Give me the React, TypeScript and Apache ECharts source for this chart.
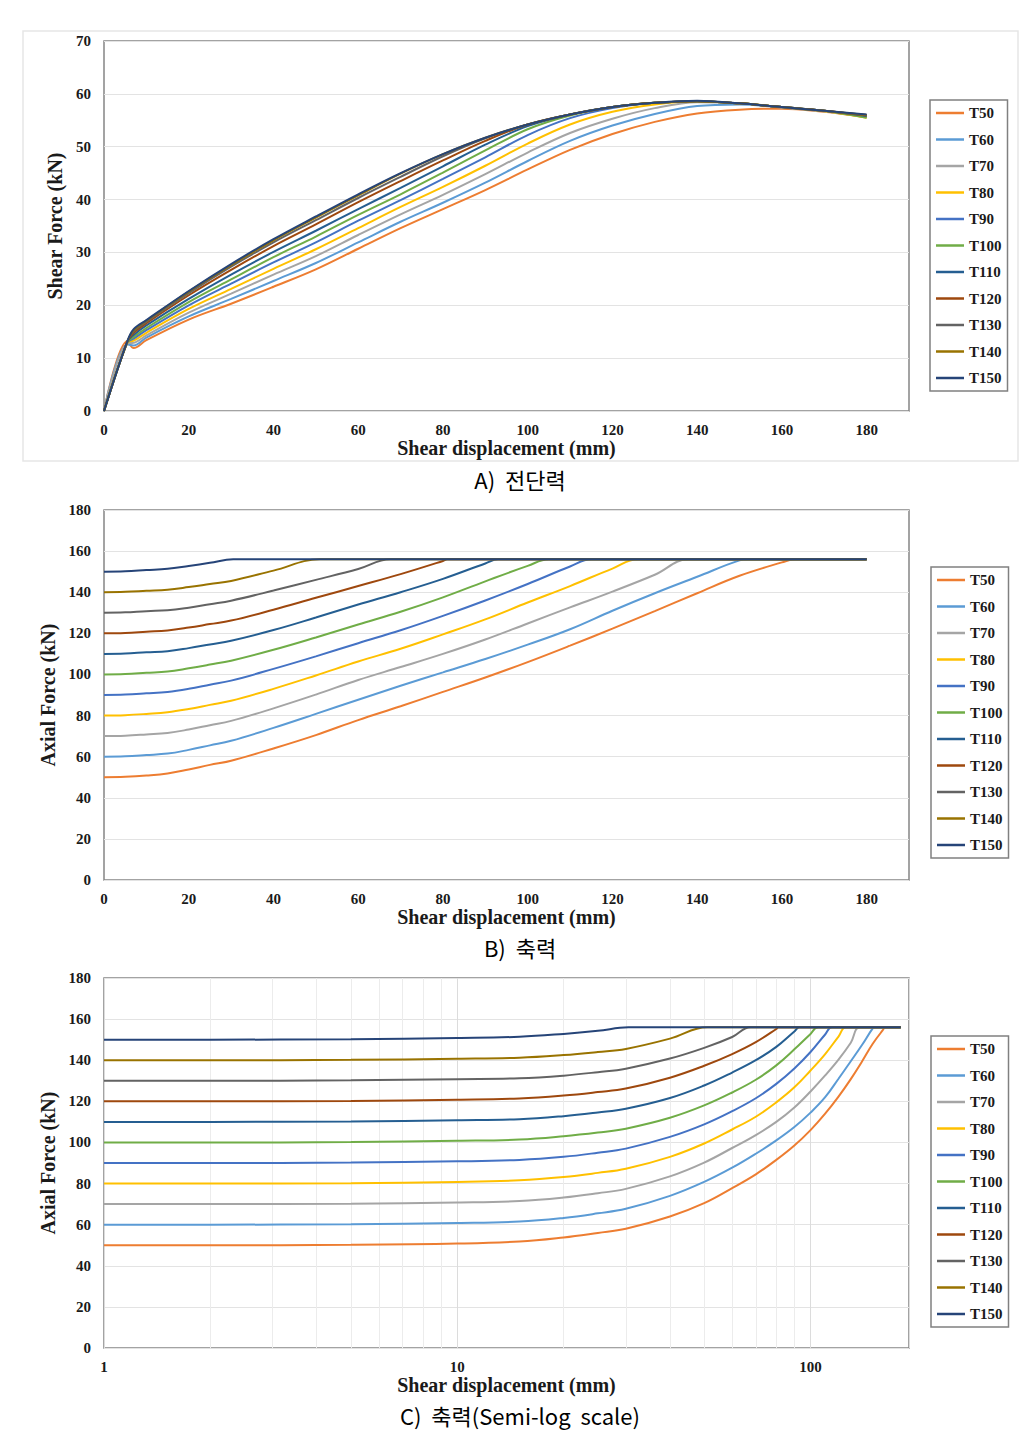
import React, { useEffect, useRef } from "react";
import * as echarts from "echarts";

const seriesNames = ["T50", "T60", "T70", "T80", "T90", "T100", "T110", "T120", "T130", "T140", "T150"];
const seriesColors = ["#ED7D31", "#5B9BD5", "#A5A5A5", "#FFC000", "#4472C4", "#70AD47", "#255E91", "#9E480E", "#636363", "#997300", "#264478"];

// ---- Chart A: shear force vs shear displacement ----
const shearX = [0, 5.5, 7, 10, 20, 30, 40, 50, 60, 70, 80, 90, 100, 110, 120, 130, 140, 150, 160, 170, 180];
const shearT50 = [0, 13.2, 11.9, 13.4, 17.3, 20.3, 23.5, 26.8, 30.7, 34.6, 38.2, 41.8, 45.7, 49.4, 52.4, 54.7, 56.3, 57.0, 57.2, 56.6, 55.6];
const shearT60 = [0, 12.6, 12.4, 13.9, 17.9, 21.2, 24.6, 28.0, 31.9, 35.8, 39.4, 43.2, 47.3, 51.1, 54.0, 56.2, 57.7, 58.0, 57.4, 56.7, 55.6];
const shearT70 = [0, 12.8, 12.9, 14.3, 18.6, 22.2, 25.8, 29.3, 33.3, 37.2, 40.9, 44.8, 48.9, 52.6, 55.3, 57.3, 58.4, 58.2, 57.5, 56.7, 55.7];
const shearT80 = [0, 12.9, 13.3, 14.8, 19.3, 23.1, 26.9, 30.6, 34.6, 38.6, 42.4, 46.4, 50.6, 54.2, 56.6, 58.0, 58.6, 58.2, 57.5, 56.7, 55.5];
const shearT90 = [0, 13.0, 13.7, 15.3, 20.0, 24.1, 28.1, 31.9, 36.0, 39.9, 43.9, 48.0, 52.2, 55.4, 57.3, 58.3, 58.6, 58.2, 57.5, 56.8, 55.7];
const shearT100 = [0, 13.0, 14.0, 15.7, 20.6, 24.9, 29.1, 33.0, 37.1, 41.0, 45.1, 49.3, 53.3, 55.9, 57.5, 58.3, 58.6, 58.2, 57.5, 56.8, 55.5];
const shearT110 = [0, 13.1, 14.4, 16.2, 21.2, 25.8, 30.1, 34.1, 38.2, 42.2, 46.3, 50.4, 53.9, 56.1, 57.5, 58.3, 58.6, 58.2, 57.5, 56.8, 55.8];
const shearT120 = [0, 13.1, 14.8, 16.6, 21.9, 26.7, 31.2, 35.3, 39.5, 43.5, 47.4, 51.1, 54.2, 56.1, 57.5, 58.3, 58.6, 58.2, 57.5, 56.8, 55.9];
const shearT130 = [0, 13.2, 15.1, 16.9, 22.3, 27.3, 31.9, 36.1, 40.3, 44.3, 48.2, 51.6, 54.2, 56.1, 57.5, 58.3, 58.6, 58.2, 57.5, 56.8, 56.0];
const shearT140 = [0, 13.2, 15.3, 17.1, 22.6, 27.6, 32.3, 36.6, 40.8, 44.9, 48.6, 51.7, 54.2, 56.1, 57.5, 58.3, 58.6, 58.2, 57.5, 56.8, 56.0];
const shearT150 = [0, 13.2, 15.5, 17.2, 22.7, 27.8, 32.5, 36.8, 41.0, 45.0, 48.6, 51.7, 54.2, 56.1, 57.5, 58.3, 58.7, 58.2, 57.5, 56.8, 56.1];
const shearSets = [shearT50, shearT60, shearT70, shearT80, shearT90, shearT100, shearT110, shearT120, shearT130, shearT140, shearT150];

// ---- Charts B & C: axial force vs shear displacement, [mm, kN] ----
const axialT50 = [[0, 50], [1, 50], [2, 50], [5, 50.2], [10, 50.8], [15, 51.8], [20, 53.8], [25, 56], [30, 58], [40, 64], [50, 70.5], [60, 77.8], [70, 84.5], [80, 91.5], [90, 98.5], [100, 106], [110, 114], [120, 122.3], [130, 130.8], [140, 139.5], [150, 148], [160, 154.5], [163, 156], [180, 156]];
const axialT60 = [[0, 60], [1, 60], [2, 60], [5, 60.2], [10, 60.8], [15, 61.5], [20, 63.3], [25, 65.5], [30, 67.7], [40, 74], [50, 80.8], [60, 87.7], [70, 94.5], [80, 101], [90, 107.5], [100, 114.5], [110, 122], [120, 131], [130, 139.5], [140, 147.5], [150, 155.5], [152, 156], [180, 156]];
const axialT70 = [[0, 70], [1, 70], [2, 70], [5, 70.2], [10, 70.8], [15, 71.5], [20, 73.2], [25, 75.3], [30, 77.4], [40, 83.5], [50, 90.2], [60, 97.3], [70, 103.6], [80, 110], [90, 117], [100, 124.8], [110, 132.6], [120, 140.3], [130, 148.5], [138, 156], [180, 156]];
const axialT80 = [[0, 80], [1, 80], [2, 80], [5, 80.2], [10, 80.8], [15, 81.6], [20, 83.2], [25, 85.2], [30, 87.2], [40, 93], [50, 99.5], [60, 106.3], [70, 112.5], [80, 119.5], [90, 126.8], [100, 135], [110, 143], [120, 151.5], [126, 156], [180, 156]];
const axialT90 = [[0, 90], [1, 90], [2, 90], [5, 90.2], [10, 90.8], [15, 91.5], [20, 93], [25, 95], [30, 97], [40, 102.7], [50, 108.8], [60, 115.2], [70, 121.5], [80, 128.5], [90, 136], [100, 144], [110, 152.5], [115, 156], [180, 156]];
const axialT100 = [[0, 100], [1, 100], [2, 100], [5, 100.2], [10, 100.8], [15, 101.4], [20, 103], [25, 104.8], [30, 106.7], [40, 112], [50, 118], [60, 124.3], [70, 130.5], [80, 137.5], [90, 145.3], [100, 152.8], [105, 156], [180, 156]];
const axialT110 = [[0, 110], [1, 110], [2, 110], [5, 110.2], [10, 110.8], [15, 111.3], [20, 112.8], [25, 114.6], [30, 116.4], [40, 121.6], [50, 127.7], [60, 134], [70, 140], [80, 146.5], [90, 154], [93, 156], [180, 156]];
const axialT120 = [[0, 120], [1, 120], [2, 120], [5, 120.2], [10, 120.8], [15, 121.4], [20, 122.8], [25, 124.5], [30, 126.2], [40, 131.5], [50, 137.3], [60, 143], [70, 148.8], [80, 155.2], [81, 156], [180, 156]];
const axialT130 = [[0, 130], [1, 130], [2, 130], [5, 130.2], [10, 130.8], [15, 131.2], [20, 132.5], [25, 134.2], [30, 135.9], [40, 140.8], [50, 146], [60, 151.3], [67.6, 156], [180, 156]];
const axialT140 = [[0, 140], [1, 140], [2, 140], [5, 140.2], [10, 140.7], [15, 141.2], [20, 142.5], [25, 144], [30, 145.5], [40, 150.5], [51, 156], [180, 156]];
const axialT150 = [[0, 150], [1, 150], [2, 150], [5, 150.2], [10, 150.8], [15, 151.4], [20, 152.8], [25, 154.3], [30.5, 156], [180, 156]];
const axialSets = [axialT50, axialT60, axialT70, axialT80, axialT90, axialT100, axialT110, axialT120, axialT130, axialT140, axialT150];

// points at 1 and 2 mm are only needed on the semi-log chart
const linearSkip = [1, 2];

// minor log grid positions (chart C)
const logMinorTicks = [2, 3, 4, 5, 6, 7, 8, 9, 20, 30, 40, 50, 60, 70, 80, 90];

const captions = ["A)  전단력", "B)  축력", "C)  축력(Semi-log  scale)"];

const SERIF = "'Liberation Serif', 'Times New Roman', serif";
const KR = "'Noto Sans CJK KR', 'Noto Sans', sans-serif";

const gridBoxes = [
  { left: 104, top: 41, width: 805, height: 370 },
  { left: 104, top: 510, width: 805, height: 370 },
  { left: 104, top: 978, width: 805, height: 370 },
];
const legendBoxes = [
  { left: 930, top: 100 },
  { left: 931, top: 567 },
  { left: 931, top: 1036 },
];

function buildOption() {
  const tickLabel = { fontFamily: SERIF, fontWeight: "bold" as const, fontSize: 15, color: "#1a1a1a" };
  const nameStyle = { fontFamily: SERIF, fontWeight: "bold" as const, fontSize: 20, color: "#1a1a1a" };

  const grid = gridBoxes.map((g) => ({
    ...g,
    show: true,
    borderColor: "#858585",
    borderWidth: 1.5,
    backgroundColor: "#fff",
    containLabel: false,
  }));

  const xAxis: any[] = [0, 1].map((i) => ({
    gridIndex: i,
    type: "value",
    min: 0,
    max: 190,
    interval: 20,
    name: "Shear displacement (mm)",
    nameLocation: "middle",
    nameGap: 27,
    nameTextStyle: nameStyle,
    axisLine: { show: false },
    axisTick: { show: false },
    axisLabel: { ...tickLabel, margin: 11, showMaxLabel: false },
    splitLine: { show: false },
  }));
  xAxis.push({
    gridIndex: 2,
    type: "log",
    logBase: 10,
    min: 1,
    max: 190,
    name: "Shear displacement (mm)",
    nameLocation: "middle",
    nameGap: 27,
    nameTextStyle: nameStyle,
    axisLine: { show: false },
    axisTick: { show: false },
    axisLabel: { ...tickLabel, margin: 11, showMaxLabel: false },
    splitLine: { show: true, lineStyle: { color: "#dcdcdc", width: 1 } },
  });

  const yDefs = [
    { max: 70, interval: 10, name: "Shear Force (kN)", gap: 26 },
    { max: 180, interval: 20, name: "Axial Force (kN)", gap: 34 },
    { max: 180, interval: 20, name: "Axial Force (kN)", gap: 34 },
  ];
  const yAxis = yDefs.map((d, i) => ({
    gridIndex: i,
    type: "value",
    min: 0,
    max: d.max,
    interval: d.interval,
    name: d.name,
    nameLocation: "middle",
    nameGap: d.gap,
    nameTextStyle: nameStyle,
    axisLine: { show: false },
    axisTick: { show: false },
    axisLabel: { ...tickLabel, margin: 13 },
    splitLine: { show: true, lineStyle: { color: "#e3e3e3", width: 1.2 } },
  }));

  const series: any[] = [];
  seriesNames.forEach((name, k) => {
    series.push({
      name,
      type: "line",
      xAxisIndex: 0,
      yAxisIndex: 0,
      data: shearX.map((x, j) => [x, shearSets[k][j]]),
      symbol: "none",
      smooth: 0.35,
      lineStyle: { width: 2, color: seriesColors[k] },
      itemStyle: { color: seriesColors[k] },
    });
  });
  seriesNames.forEach((name, k) => {
    series.push({
      name,
      type: "line",
      xAxisIndex: 1,
      yAxisIndex: 1,
      data: axialSets[k].filter((p) => linearSkip.indexOf(p[0]) < 0),
      symbol: "none",
      smooth: 0.4,
      lineStyle: { width: 2, color: seriesColors[k] },
      itemStyle: { color: seriesColors[k] },
    });
  });
  seriesNames.forEach((name, k) => {
    const s: any = {
      name,
      type: "line",
      xAxisIndex: 2,
      yAxisIndex: 2,
      data: axialSets[k].filter((p) => p[0] > 0),
      symbol: "none",
      smooth: 0.4,
      lineStyle: { width: 2, color: seriesColors[k] },
      itemStyle: { color: seriesColors[k] },
    };
    if (k === 0) {
      s.markLine = {
        silent: true,
        z: 1,
        symbol: ["none", "none"],
        label: { show: false },
        lineStyle: { color: "#ececec", width: 1, type: "solid" },
        data: logMinorTicks.map((v) => ({ xAxis: v })),
      };
    }
    series.push(s);
  });

  const legend = legendBoxes.map((b) => ({
    left: b.left,
    top: b.top,
    orient: "vertical",
    data: seriesNames.map((n) => ({ name: n, icon: "rect" })),
    selectedMode: false,
    backgroundColor: "#fff",
    borderColor: "#808080",
    borderWidth: 1.5,
    borderRadius: 0,
    padding: [5, 6, 5, 6],
    itemGap: 10.5,
    itemWidth: 28,
    itemHeight: 2.5,
    textStyle: { fontFamily: SERIF, fontWeight: "bold", fontSize: 15, color: "#1a1a1a", lineHeight: 16 },
  }));

  const captionY = [479, 947, 1415];
  const graphic: any[] = [
    {
      type: "rect",
      shape: { x: 23, y: 31, width: 995, height: 430 },
      style: { fill: "none", stroke: "#e6e6e6", lineWidth: 1.5 },
      z: -1,
      silent: true,
    },
    ...captions.map((t, i) => ({
      type: "text",
      x: 520,
      y: captionY[i],
      style: {
        text: t,
        fontFamily: KR,
        fontSize: 22,
        fill: "#000",
        textAlign: "center",
        textVerticalAlign: "middle",
      },
    })),
  ];

  return {
    animation: false,
    backgroundColor: "#fff",
    grid,
    xAxis,
    yAxis,
    legend,
    series,
    graphic,
  };
}

export default function App() {
  const ref = useRef<HTMLDivElement>(null);
  useEffect(() => {
    if (!ref.current) return;
    const chart = echarts.init(ref.current, undefined, { renderer: "svg" });
    chart.setOption(buildOption() as any);
    return () => chart.dispose();
  }, []);
  return (
    <div
      ref={ref}
      style={{ position: "absolute", left: 0, top: 0, width: 1035, height: 1442, background: "#fff" }}
    />
  );
}
